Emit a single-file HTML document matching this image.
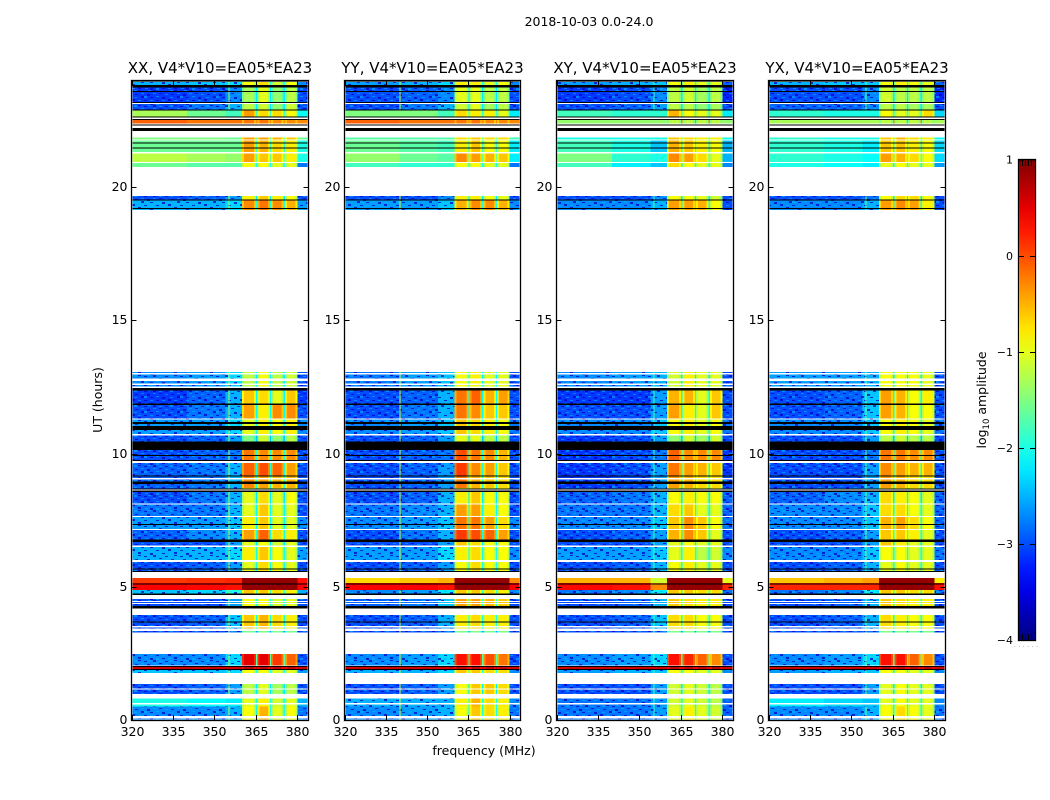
<!DOCTYPE html>
<html lang="en">
<head>
<meta charset="utf-8">
<title>2018-10-03 dynamic spectra</title>
<style>
html,body{margin:0;padding:0;background:#fff;width:1050px;height:800px;overflow:hidden}
svg{display:block}
text{font-family:"DejaVu Sans","Liberation Sans",sans-serif;fill:#000}
</style>
</head>
<body>
<svg id="chart" xmlns="http://www.w3.org/2000/svg" width="1050" height="800" viewBox="0 0 1050 800">
<defs>
<pattern id="speckle" width="36" height="15" patternUnits="userSpaceOnUse">
<g fill="#0000c8" opacity=".75">
<rect x="0" y="1" width="3" height="1"/><rect x="9" y="0" width="3" height="2"/><rect x="21" y="1" width="3" height="1"/><rect x="30" y="0" width="3" height="1"/>
<rect x="3" y="4" width="3" height="2"/><rect x="15" y="3" width="3" height="1"/><rect x="27" y="4" width="3" height="1"/>
<rect x="6" y="7" width="3" height="1"/><rect x="18" y="7" width="3" height="2"/><rect x="33" y="6" width="3" height="2"/>
<rect x="0" y="10" width="3" height="1"/><rect x="12" y="10" width="3" height="1"/><rect x="24" y="9" width="3" height="2"/>
<rect x="6" y="13" width="3" height="2"/><rect x="18" y="13" width="3" height="1"/><rect x="30" y="12" width="3" height="2"/>
</g>
<g fill="#00b4ff" opacity=".6">
<rect x="4" y="0" width="3" height="1"/><rect x="15" y="1" width="3" height="1"/><rect x="26" y="0" width="3" height="2"/>
<rect x="9" y="3" width="3" height="1"/><rect x="21" y="4" width="3" height="1"/><rect x="33" y="3" width="3" height="1"/>
<rect x="0" y="6" width="3" height="2"/><rect x="12" y="6" width="3" height="1"/><rect x="26" y="7" width="3" height="1"/>
<rect x="6" y="10" width="3" height="1"/><rect x="18" y="10" width="3" height="1"/><rect x="30" y="10" width="3" height="1"/>
<rect x="1" y="13" width="3" height="1"/><rect x="12" y="13" width="3" height="2"/><rect x="24" y="13" width="3" height="1"/>
</g>
</pattern>
<linearGradient id="jet-gradient" x1="0" y1="1" x2="0" y2="0"></linearGradient>
</defs>
<text x="589" y="26" font-size="12.5" text-anchor="middle">2018-10-03 0.0-24.0</text>
<text transform="translate(102,400) rotate(-90)" font-size="12.5" text-anchor="middle">UT (hours)</text>
<text x="484" y="755" font-size="12.5" text-anchor="middle">frequency (MHz)</text>
<text transform="translate(986,400) rotate(-90)" font-size="12.5" text-anchor="middle">log<tspan font-size="8.5" dy="3">10</tspan><tspan dy="-3"> amplitude</tspan></text>
<text x="1026" y="647" font-size="7" text-anchor="middle" style="fill:#999">. . . . . .</text>
<g id="panels"></g>
<g id="colorbar"></g>
</svg>
<script>
const panelTitles = ["XX, V4*V10=EA05*EA23", "YY, V4*V10=EA05*EA23", "XY, V4*V10=EA05*EA23", "YX, V4*V10=EA05*EA23"];
const xTickLabels = [320, 335, 350, 365, 380];
const yTickLabels = [0, 5, 10, 15, 20];
const colorTicks = [1, 0, -1, -2, -3, -4];

// frequency edges (MHz) of the spectral columns; 'gap' columns use gapLevels
const freqEdges = [320, 340, 354, 360, 365, 365.5, 370, 370.5, 375, 375.5, 380, 384];
const columnOrder = [0, 1, 2, 3, "gap", 4, "gap", 5, "gap", 6, 7];
// narrow-band interference lines (MHz, log10 amplitude) per panel
const spurFreqs = [355, 340, 355, 355];
const spurLevels = [-1.3, -1.1, -1.8, -1.6];

// time bands (UT hours)
const bandTop = [23.94,23.73,23.16,22.90,22.51,21.87,21.74,21.26,20.91,19.66,19.51,13.06,12.36,11.86,11.27,10.73,10.13,9.64,9.18,8.70,8.13,7.62,7.13,6.72,6.50,5.93,5.32,5.15,4.88,4.54,3.94,3.34,2.48,2.00,1.91,1.35,0.81,0.50];
const bandBottom = [23.73,23.16,22.90,22.64,22.39,21.74,21.32,20.95,20.76,19.51,19.14,12.46,11.86,11.32,10.73,10.13,9.64,9.18,8.70,8.13,7.65,7.16,6.72,6.50,6.00,5.56,5.15,4.88,4.72,4.18,3.43,3.29,2.04,1.91,1.77,0.98,0.50,0];
const gapLevels = [-2,-2.2,-2.2,-1.8,-0.3,-1.6,-1.8,-1.6,-2,-2.2,-2,-2.2,-2.1,-2.1,-2,-2.4,-2,-2,-2,-2.2,-2.1,-2.1,-2,-2.2,-2,-2,0.9,0.9,-1.8,-2,-2,-2.6,-1.7,0.7,-2,-2.2,-2,-2];

// flagged (black) and missing (white) hour ranges: [from, to]
const flaggedHours = [[24,23.94],[23.83,23.73],[23.61,23.56],[23.20,23.16],[22.92,22.88],[22.64,22.62],[22.55,22.51],[22.35,22.33],[22.21,22.10],[21.68,21.65],[21.49,21.46],[19.54,19.51],[19.21,19.19],[12.46,12.36],[11.88,11.83],[11.18,11.11],[11.03,10.88],[10.46,10.13],[9.94,9.91],[9.76,9.72],[9.18,9.13],[8.96,8.86],[8.69,8.65],[8.61,8.56],[7.35,7.32],[6.78,6.68],[5.69,5.65],[5.60,5.56],[5.13,5.10],[4.75,4.69],[4.28,4.18],[3.70,3.68],[2.02,2.00],[1.91,1.88]];
const missingHours = [[23.16,23.11],[21.79,21.74],[13.02,12.96],[12.81,12.73],[12.63,12.57],[12.51,12.46],[11.32,11.27],[10.73,10.68],[9.72,9.64],[9.08,9.03],[8.65,8.61],[8.13,8.09],[7.65,7.62],[7.16,7.13],[6.54,6.50],[6.00,5.93],[4.47,4.43],[4.39,4.36],[3.53,3.48],[1.19,1.15],[0.63,0.59],[0.15,0.06]];

// log10 amplitude per band: [320-340, 340-354, 354-360, win1, win2, win3, win4, 380-384]
const levelsXX = [
[-2.5,-2.4,-2.3,-.9,-.7,-1.1,-.9,-2.7],[-3.1,-3,-2.7,-1.3,-1,-1.4,-1.2,-3],[-3,-2.8,-2.5,-1.2,-1.1,-1.4,-1.1,-3],[-1.3,-1.6,-1.8,-.4,-.7,-.7,-.9,-2.1],
[-.1,-.2,-.2,-.2,-.2,-.3,-.3,-.3],[-1.5,-1.5,-1.6,-.4,-.4,-.5,-.6,-1.6],[-1.6,-1.6,-1.6,-.4,-.5,-.7,-.8,-2],[-1.2,-1.3,-1.4,-.4,-.6,-.6,-.8,-2],
[-1.6,-1.7,-1.7,-.9,-.9,-1,-1,-2.8],[-3,-2.9,-2.6,-.8,-.6,-.8,-.9,-3],[-2.5,-2.5,-2.3,-.3,-.2,-.3,-.5,-2.6],[-2.7,-2.6,-2.3,-1.2,-.9,-1.2,-1.1,-3],
[-3.1,-2.9,-2.5,-.6,-.7,-1,-.6,-3.1],[-3,-2.8,-2.5,-.4,-.8,-.3,-.3,-3],[-2.6,-2.6,-2.3,-1,-.8,-.9,-.8,-2.7],[-3,-2.9,-2.6,-1.5,-1.1,-1.4,-1.2,-3],
[-3,-2.9,-2.8,-.2,-.3,-.3,-.3,-3],[-2.9,-2.8,-2.5,-.1,0,-.1,-.4,-3],[-2.9,-2.8,-2.5,-.3,-.4,-.5,-.5,-3],[-3,-2.8,-2.5,-1,-.7,-1,-.9,-3],
[-2.8,-2.8,-2.5,-1,-.6,-1,-1,-3],[-2.6,-2.6,-2.4,-.8,-.6,-1,-1,-2.7],[-2.9,-2.7,-2.5,-.4,-.1,-.7,-.8,-3],[-3,-3,-2.6,-1,-.9,-1.1,-1,-3],
[-2.5,-2.5,-2.3,-.8,-.6,-.9,-1,-2.6],[-3,-2.9,-2.6,-1,-.7,-.9,-1,-3],[.1,.15,.2,.9,.9,.9,.9,.3],[.4,.35,.3,.9,.9,.9,.9,.4],
[-2.4,-2.3,-2,-.6,-.6,-.7,-.8,-2.5],[-3,-3,-2.6,-.9,-.9,-1.1,-1,-3],[-3,-2.9,-2.4,-.6,-.5,-.7,-.8,-3],[-3,-3,-2.8,-1.5,-1.5,-1.5,-1.5,-3],
[-2.7,-2.7,-2.3,.5,.5,.1,-.1,-3],[.6,.6,.6,.7,.7,.7,.7,.6],[-2.4,-2.4,-2.3,-.9,-.9,-1,-1,-2.6],[-3,-2.9,-2.6,-1.2,-1,-1.3,-1.2,-3],
[-2,-2.1,-2.2,-1,-.8,-1.1,-1,-2.5],[-2.7,-2.7,-2.5,-.9,-.5,-1,-.9,-2.8]];
const levelsYY = [
[-2.6,-2.5,-2.3,-.8,-.8,-1,-.9,-2.7],[-3,-2.9,-2.7,-1,-1,-1.2,-1.2,-3],[-3,-2.8,-2.5,-1.1,-1,-1.3,-1.2,-3],[-1.5,-1.5,-1.8,-.7,-.8,-.8,-1,-2.2],
[-.1,-.2,-.2,-.2,-.2,-.3,-.3,-.3],[-1.7,-1.7,-1.7,-.7,-.6,-.7,-.7,-1.8],[-1.6,-1.7,-1.8,-.8,-.6,-.9,-.9,-2.2],[-1.4,-1.6,-1.7,-.3,-.4,-.5,-.6,-2.2],
[-1.8,-1.9,-1.9,-.9,-.9,-1,-1,-2.8],[-3,-3,-2.7,-.8,-.8,-.9,-1,-3],[-2.6,-2.6,-2.4,-.5,-.3,-.3,-.5,-2.7],[-2.8,-2.6,-2.4,-.9,-.8,-1,-1,-3],
[-3,-2.9,-2.5,-.2,-.1,-.5,-.4,-3],[-3,-2.8,-2.5,-.2,-.3,-.6,-.6,-3],[-2.7,-2.6,-2.4,-.6,-.7,-.8,-.9,-2.8],[-3,-2.9,-2.6,-1,-1,-1.2,-1.2,-3],
[-3,-2.9,-2.8,0,-.2,-.3,-.5,-3],[-3,-2.9,-2.6,.1,-.3,-.4,-.6,-3],[-3,-2.9,-2.6,-.2,-.5,-.6,-.7,-3],[-3,-2.9,-2.5,-.8,-.6,-.9,-.9,-3],
[-2.8,-2.7,-2.5,-.4,-.4,-.8,-.9,-3],[-2.7,-2.6,-2.4,-.2,-.2,-.4,-.7,-2.7],[-3,-2.8,-2.5,.1,0,-.1,-.4,-3],[-3,-3,-2.6,-.6,-.7,-.9,-.9,-3],
[-2.6,-2.6,-2.3,-.8,-.7,-.9,-.9,-2.7],[-3,-2.9,-2.6,-.9,-.7,-.9,-.9,-3],[-.7,-.6,-.5,.9,.9,.9,.9,-.3],[.4,.4,.3,.9,.9,.9,.9,.4],
[-2.7,-2.6,-2.2,-.6,-.6,-.7,-.8,-2.7],[-2.9,-2.8,-2.4,-.4,-.4,-.5,-.6,-3],[-3,-2.9,-2.5,-.8,-.7,-.8,-.8,-3],[-3,-3,-2.8,-1.5,-1.5,-1.5,-1.5,-3],
[-2.7,-2.6,-2.3,.3,.3,0,-.2,-3],[.6,.6,.6,.7,.7,.7,.7,.6],[-2.5,-2.5,-2.3,-.6,-.6,-.7,-.7,-2.7],[-3,-2.9,-2.6,-.9,-.6,-.6,-.7,-3],
[-2.5,-2.5,-2.5,-.8,-.5,-.7,-.8,-2.7],[-2.7,-2.6,-2.5,-.9,-.6,-.7,-.8,-2.8]];
const levelsXY = [
[-2.6,-2.5,-2.4,-.9,-.8,-1,-1,-2.9],[-3.1,-3,-2.7,-1.2,-1.1,-1.3,-1.2,-3.2],[-3,-2.9,-2.6,-1.2,-1.2,-1.4,-1.3,-3],[-1.8,-1.9,-1.9,-.5,-.9,-1,-1,-2.2],
[-1.4,-1.4,-1.4,-1.2,-1.2,-1.2,-1.2,-1.4],[-2,-2,-2,-.6,-.7,-.8,-.8,-2.1],[-1.8,-2,-2.4,-.5,-.6,-.8,-.9,-2.5],[-1.5,-1.9,-2,-.3,-.4,-.7,-1,-2.5],
[-1.8,-2.2,-2.4,-.7,-.9,-1,-1,-2.7],[-3,-3,-2.7,-.9,-.9,-1,-1.1,-3],[-2.7,-2.7,-2.5,-.4,-.4,-.5,-.9,-3],[-2.7,-2.6,-2.5,-1.1,-.8,-1,-1,-3],
[-3.1,-3.1,-2.6,-.5,-.5,-1,-.6,-3],[-3,-3,-2.6,-.4,-.8,-1,-.6,-3],[-2.7,-2.7,-2.4,-.9,-.8,-1,-.9,-2.8],[-3.1,-3,-2.6,-1.4,-1.1,-1.3,-1.1,-3],
[-3.1,-3,-2.8,-.1,-.3,-.3,-.3,-3.1],[-3.1,-3,-2.6,-.2,-.4,-.5,-.6,-3.1],[-3.1,-3,-2.6,-.4,-.5,-.7,-.7,-3],[-2.9,-2.8,-2.5,-.9,-.8,-.9,-.9,-2.9],
[-2.8,-2.8,-2.5,-.7,-.6,-1,-1,-2.9],[-2.7,-2.7,-2.4,-.6,-.3,-.6,-.9,-2.8],[-3,-2.9,-2.6,-.5,-.3,-.6,-1,-3],[-3,-3,-2.6,-1,-.9,-1,-1,-3],
[-2.6,-2.6,-2.4,-1,-.8,-1.2,-1.1,-2.7],[-3,-2.9,-2.5,-.9,-.8,-1,-1,-3],[-.5,-.5,-1.1,.9,.9,.9,.9,-1],[.35,.3,-.3,.9,.9,.9,.9,.2],
[-2.8,-2.7,-2.2,-.6,-.6,-.7,-.7,-2.8],[-3,-2.9,-2.5,-.6,-.7,-.8,-.8,-3],[-3,-2.9,-2.4,-.7,-.7,-.9,-.9,-3],[-3,-3,-2.8,-1.5,-1.5,-1.5,-1.5,-3],
[-2.7,-2.6,-2.3,.3,.2,-.1,-.3,-3],[.6,.6,.6,.7,.7,.7,.7,.6],[-2.6,-2.5,-2.4,-.9,-.9,-1,-1,-2.7],[-3,-3,-2.6,-1.1,-1,-1.1,-1.2,-3],
[-2.8,-2.8,-2.6,-1.1,-1,-1.1,-1.2,-2.9],[-2.8,-2.8,-2.6,-1,-.8,-1,-1.1,-2.9]];
const levelsYX = [
[-2.5,-2.4,-2.4,-.9,-.8,-.9,-1,-2.9],[-3,-3,-2.7,-1.1,-1.2,-1.2,-1.2,-3.2],[-2.9,-2.9,-2.7,-1.2,-1.2,-1.3,-1.3,-3],[-1.9,-2,-2,-.9,-1,-1,-.7,-2.3],
[-1.3,-1.3,-1.3,-1.2,-1.2,-1.2,-1.2,-1.3],[-1.9,-2,-2,-.6,-.5,-.7,-.8,-2.1],[-1.9,-2,-2.2,-.6,-.6,-.8,-.9,-2.3],[-1.9,-2,-2.1,-.4,-.5,-.7,-.9,-2.3],
[-2,-2.1,-2.2,-1,-.9,-1,-1,-2.6],[-3,-3,-2.8,-.9,-.7,-.7,-.9,-3],[-2.7,-2.7,-2.5,-.4,-.3,-.4,-.8,-3],[-2.6,-2.6,-2.5,-.9,-.9,-.9,-1,-3],
[-3,-2.9,-2.4,-.4,-.5,-.9,-.8,-3],[-3,-2.9,-2.4,-.4,-.5,-.9,-.9,-3],[-2.7,-2.7,-2.4,-.9,-.8,-.9,-1,-2.8],[-3,-3,-2.6,-1.2,-1.1,-1.2,-1.2,-3],
[-3,-3,-2.8,-.2,-.2,-.3,-.3,-3],[-3,-3,-2.6,-.3,-.4,-.5,-.5,-3],[-3,-3,-2.6,-.4,-.5,-.7,-.7,-3],[-2.9,-2.7,-2.5,-.7,-.8,-.9,-1,-2.9],
[-2.7,-2.7,-2.4,-.7,-.7,-.9,-1,-2.9],[-2.7,-2.7,-2.4,-.5,-.4,-.7,-.9,-2.9],[-3,-2.9,-2.6,-.6,-.6,-.8,-1,-3],[-3,-3,-2.6,-.6,-.8,-1,-1,-3],
[-2.7,-2.7,-2.4,-.9,-.9,-1,-1,-2.8],[-3,-2.9,-2.5,-1,-.9,-1,-1,-3],[-.6,-.5,-.4,.9,.9,.9,.9,-.8],[.2,.2,.2,.9,.9,.9,.9,.3],
[-2.8,-2.7,-2.2,-.6,-.6,-.7,-.7,-2.8],[-3,-2.9,-2.5,-.6,-.7,-.8,-.8,-3],[-3,-2.9,-2.5,-.7,-.8,-.9,-.9,-3],[-3,-3,-2.8,-1.5,-1.5,-1.5,-1.5,-3],
[-2.7,-2.6,-2.3,.3,.3,-.1,-.3,-3],[.6,.6,.6,.7,.7,.7,.7,.6],[-2.6,-2.5,-2.4,-.9,-.9,-1,-1,-2.7],[-3,-3,-2.6,-1,-.9,-1,-1,-3],
[-2.2,-2.3,-2.4,-1,-.9,-1,-1,-2.7],[-2.7,-2.7,-2.5,-.9,-.7,-.9,-1,-2.8]];
const panelLevels = [levelsXX, levelsYY, levelsXY, levelsYX];

const SVGNS = "http://www.w3.org/2000/svg";
const frameLefts = [131.5, 344.5, 556.5, 768.5];
const frameRights = [308.5, 520.5, 733.5, 945.5];
const plotTop = 80.5, plotBottom = 720;
const freqMin = 320, freqMax = 384, hourMin = 0, hourMax = 24, levelMin = -4, levelMax = 1;

function make(tag, attrs, parent) {
  const el = document.createElementNS(SVGNS, tag);
  for (const k in attrs) el.setAttribute(k, attrs[k]);
  parent.appendChild(el);
  return el;
}
function clip01(v) { return Math.max(0, Math.min(1, v)); }
function jet(level) {
  const t = clip01((level - levelMin) / (levelMax - levelMin));
  const r = clip01(1.5 - Math.abs(4 * t - 3));
  const g = clip01(1.5 - Math.abs(4 * t - 2));
  const b = clip01(1.5 - Math.abs(4 * t - 1));
  return "rgb(" + Math.round(r * 255) + "," + Math.round(g * 255) + "," + Math.round(b * 255) + ")";
}
function yScale(h) { return plotBottom - (h - hourMin) / (hourMax - hourMin) * (plotBottom - plotTop); }

const panelsRoot = document.getElementById("panels");
panelTitles.forEach(function (title, p) {
  const frameX = frameLefts[p], frameR = frameRights[p];
  const plotWidth = frameR - frameX;
  const xScale = function (f) { return frameX + (f - freqMin) / (freqMax - freqMin) * plotWidth; };
  const levels = panelLevels[p];
  const key = title.slice(0, 2).toLowerCase();
  const g = make("g", {}, panelsRoot);
  
  

  const heat = make("g", { "shape-rendering": "crispEdges" }, g);
  
  

  levels.forEach(function (row, b) {
    const y0 = yScale(bandTop[b]), y1 = yScale(bandBottom[b]);
    const rowH = (y1 - y0).toFixed(2);
    columnOrder.forEach(function (col, c) {
      const level = col === "gap" ? gapLevels[b] : row[col];
      const x0 = xScale(freqEdges[c]), x1 = xScale(freqEdges[c + 1]);
      const cell = make("rect", { x: x0.toFixed(2), y: y0.toFixed(2), width: (x1 - x0).toFixed(2), height: rowH, fill: jet(level) }, heat);
      
      
      // spectral-window roll-off: window edges are weaker than the centre
      if (typeof col === "number" && col >= 3 && col <= 6 && level < 0.8) {
        const edgeA = make("rect", { x: x0.toFixed(2), y: y0.toFixed(2), width: 2, height: rowH, fill: jet(level - 0.3) }, heat);
        
        
        const edgeB = make("rect", { x: (x1 - 2).toFixed(2), y: y0.toFixed(2), width: 2, height: rowH, fill: jet(level - 0.3) }, heat);
        
        
      }
    });
    if (row[0] < -2.2) {
      const tex = make("rect", { x: xScale(freqEdges[0]).toFixed(2), y: y0.toFixed(2), width: (xScale(freqEdges[3]) - xScale(freqEdges[0])).toFixed(2), height: rowH, fill: "url(#speckle)" }, heat);
      
      
      const tex2 = make("rect", { x: xScale(freqEdges[10]).toFixed(2), y: y0.toFixed(2), width: (xScale(freqEdges[11]) - xScale(freqEdges[10])).toFixed(2), height: rowH, fill: "url(#speckle)" }, heat);
      
      
      const spur = make("rect", { x: xScale(spurFreqs[p]).toFixed(2), y: y0.toFixed(2), width: 1, height: rowH, fill: jet(spurLevels[p]) }, heat);
      
      
    }
  });

  missingHours.forEach(function (range) {
    const m = make("rect", { x: frameX, y: yScale(range[0]).toFixed(2), width: plotWidth, height: Math.max(1, yScale(range[1]) - yScale(range[0])).toFixed(2), fill: "#fff" }, heat);
    
    
  });
  flaggedHours.forEach(function (range) {
    const f = make("rect", { x: frameX, y: yScale(range[0]).toFixed(2), width: plotWidth, height: Math.max(1, yScale(range[1]) - yScale(range[0])).toFixed(2), fill: "#000" }, heat);
    
    
  });

  const halo = make("rect", { x: frameX, y: 80.5, width: plotWidth, height: 640, fill: "none", stroke: "#b4b4b4", "stroke-width": 2 }, g);
  
  
  const frame = make("rect", { x: frameX, y: 80.5, width: plotWidth, height: 640, fill: "none", stroke: "#000", "stroke-width": 1 }, g);
  
  

  const titleEl = make("text", { x: ((frameX + frameR) / 2).toFixed(1), y: 73, "font-size": 15, "text-anchor": "middle" }, g);
  
  
  titleEl.textContent = title;

  xTickLabels.forEach(function (f) {
    const x = Math.round(xScale(f)) + 0.5;
    const tb = make("line", { x1: x, x2: x, y1: 720, y2: 715, stroke: "#000" }, g);
    
    
    const tt = make("line", { x1: x, x2: x, y1: 81, y2: 86, stroke: "#000" }, g);
    
    
    const lab = make("text", { x: x.toFixed(1), y: 736, "font-size": 12.5, "text-anchor": "middle" }, g);
    
    
    lab.textContent = f;
  });
  yTickLabels.forEach(function (h) {
    const y = Math.round(yScale(h)) + 0.5;
    const tl = make("line", { x1: frameX, x2: frameX + 5, y1: y, y2: y, stroke: "#000" }, g);
    
    
    const tr = make("line", { x1: frameR, x2: frameR - 5, y1: y, y2: y, stroke: "#000" }, g);
    
    
    const lab = make("text", { x: frameX - 4, y: y + 3.5, "font-size": 12.5, "text-anchor": "end" }, g);
    
    
    lab.textContent = h;
  });
});

// colorbar
const cbLeft = 1019, cbRight = 1035, cbTop = 160, cbBottom = 640;
function cbScale(v) { return cbBottom - (v - levelMin) / (levelMax - levelMin) * (cbBottom - cbTop); }
const grad = document.getElementById("jet-gradient");
[0, .05, .1, .15, .2, .25, .3, .35, .4, .45, .5, .55, .6, .65, .7, .75, .8, .85, .9, .95, 1].forEach(function (t) {
  make("stop", { offset: t, "stop-color": jet(levelMin + t * (levelMax - levelMin)) }, grad);
});
const cbRoot = document.getElementById("colorbar");
const cbHalo = make("rect", { x: cbLeft - .5, y: cbTop - .5, width: cbRight - cbLeft + 1, height: cbBottom - cbTop + 1, fill: "none", stroke: "#b4b4b4", "stroke-width": 2 }, cbRoot);


const cbRamp = make("rect", { x: cbLeft, y: cbTop, width: cbRight - cbLeft, height: cbBottom - cbTop, fill: "url(#jet-gradient)" }, cbRoot);


const cbFrame = make("rect", { x: cbLeft - .5, y: cbTop - .5, width: cbRight - cbLeft + 1, height: cbBottom - cbTop + 1, fill: "none", stroke: "#000" }, cbRoot);


colorTicks.forEach(function (v) {
  const y = Math.round(cbScale(v)) + (v === levelMax ? 0 : .5);
  const a = make("line", { x1: cbLeft, x2: cbLeft + 5, y1: y, y2: y, stroke: "#000" }, cbRoot);
  
  
  const b = make("line", { x1: cbRight, x2: cbRight - 5, y1: y, y2: y, stroke: "#000" }, cbRoot);
  
  
  const lab = make("text", { x: 1013, y: y + 3.5, "font-size": 11, "text-anchor": "end" }, cbRoot);
  
  
  lab.textContent = String(v).replace("-", "\u2212");
});
[1022.5, 1025.5, 1028.5, 1031.5].forEach(function (x) {
  const top = make("line", { x1: x, x2: x, y1: cbTop, y2: cbTop + 6, stroke: "#000" }, cbRoot);
  
  
  const bot = make("line", { x1: x, x2: x, y1: cbBottom, y2: cbBottom - 6, stroke: "#000" }, cbRoot);
  
  
});
</script>
</body>
</html>
